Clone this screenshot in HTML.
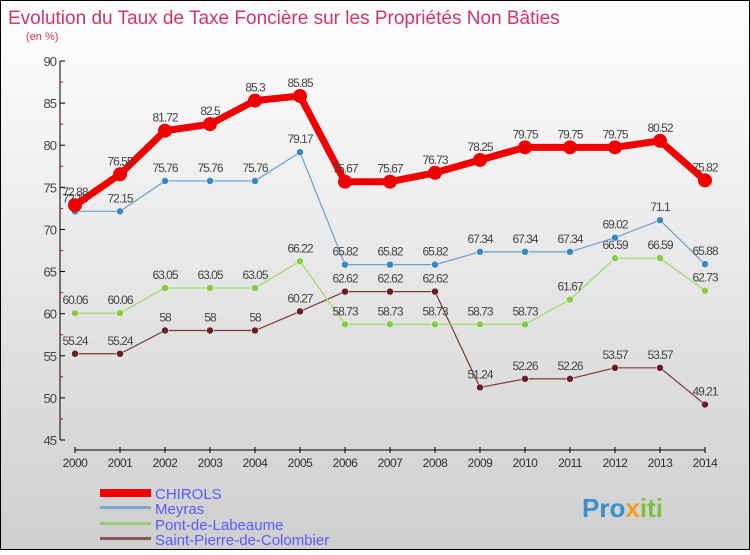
<!DOCTYPE html>
<html><head><meta charset="utf-8"><style>
html,body{margin:0;padding:0}
body{width:750px;height:550px;overflow:hidden;font-family:"Liberation Sans",sans-serif}
</style></head><body>
<svg id="c" width="750" height="550" xmlns="http://www.w3.org/2000/svg">
<defs><linearGradient id="bg" x1="0" y1="0" x2="0" y2="1"><stop offset="0" stop-color="#ffffff"/><stop offset="1" stop-color="#cfcfcf"/></linearGradient></defs>
<rect x="0.5" y="0.5" width="749" height="549" fill="url(#bg)" stroke="#000"/>
<text x="8" y="24" font-size="19" fill="#d6336c">Evolution du Taux de Taxe Foncière sur les Propriétés Non Bâties</text>
<text x="26" y="40" font-size="11" fill="#d6336c">(en %)</text>
<g id="axes"></g><g id="series"></g>
<g>
<rect x="100" y="489" width="51" height="8" fill="#e00"/>
<text x="155" y="499" font-size="15" fill="#5a5aff">CHIROLS</text>
<rect x="100" y="506" width="51" height="3" fill="#7aaacc"/>
<text x="155" y="514" font-size="15" fill="#5a5aff">Meyras</text>
<rect x="100" y="522" width="51" height="3" fill="#99cc77"/>
<text x="155" y="530" font-size="15" fill="#5a5aff">Pont-de-Labeaume</text>
<rect x="100" y="537" width="51" height="3" fill="#8a5a5a"/>
<text x="155" y="545" font-size="15" fill="#5a5aff">Saint-Pierre-de-Colombier</text>
</g>
<text x="582" y="517" font-size="26" font-weight="bold" fill="#3a8fd0">Pro<tspan fill="#f0a020">x</tspan><tspan fill="#80c040">iti</tspan></text>
</svg>
<script>
const years=[2000,2001,2002,2003,2004,2005,2006,2007,2008,2009,2010,2011,2012,2013,2014];
const yTicks=[45,50,55,60,65,70,75,80,85,90];
const chirols=[72.88,76.55,81.72,82.5,85.3,85.85,75.67,75.67,76.73,78.25,79.75,79.75,79.75,80.52,75.82];
const meyras=[72.15,72.15,75.76,75.76,75.76,79.17,65.82,65.82,65.82,67.34,67.34,67.34,69.02,71.1,65.88];
const pont=[60.06,60.06,63.05,63.05,63.05,66.22,58.73,58.73,58.73,58.73,58.73,61.67,66.59,66.59,62.73];
const stp=[55.24,55.24,58,58,58,60.27,62.62,62.62,62.62,51.24,52.26,52.26,53.57,53.57,49.21];
const NS="http://www.w3.org/2000/svg";
const X=i=>75+i*45, Y=v=>440-(v-45)*(379/45);
function mk(t,a,p){const e=document.createElementNS(NS,t);for(const k in a)e.setAttribute(k,a[k]);p.appendChild(e);return e;}
const ax=document.getElementById('axes');
const ya=mk('line',{x1:60,y1:61,x2:60,y2:440,stroke:'#000'},ax);


const xa=mk('line',{x1:75,y1:450,x2:705,y2:450,stroke:'#000'},ax);


yTicks.forEach(v=>{
 mk('line',{x1:60,y1:Y(v),x2:65,y2:Y(v),stroke:'#000'},ax);
 if(v<90)mk('line',{x1:60,y1:Y(v+2.5),x2:63,y2:Y(v+2.5),stroke:'#e00'},ax);
 const t=mk('text',{x:56,y:Y(v)+5,'font-size':13,'text-anchor':'end',fill:'#444','letter-spacing':'-1'},ax);t.textContent=v;
 
 
});
years.forEach((y,i)=>{
 mk('line',{x1:X(i),y1:447,x2:X(i),y2:453,stroke:'#000'},ax);
 const t=mk('text',{x:X(i),y:467,'font-size':12,'text-anchor':'middle',fill:'#333','letter-spacing':'-0.5'},ax);t.textContent=y;
 
 
});
const sg=document.getElementById('series');
function draw(vals,col,w,r,name,dot){
 const g=mk('g',{},sg);
 
 
 mk('polyline',{points:vals.map((v,i)=>X(i)+','+Y(v)).join(' '),fill:'none',stroke:col,'stroke-width':w,'stroke-linejoin':'round'},g);
 vals.forEach((v,i)=>{
  const c=mk('circle',{cx:X(i),cy:Y(v),r:r,fill:dot,stroke:'#fff','stroke-width':r>5?0:0.5},g);
  
  
  const t=mk('text',{x:X(i),y:Y(v)-9,'font-size':12,'text-anchor':'middle',fill:'#444','letter-spacing':'-1'},g);t.textContent=v;
  
  
 });
}
draw(stp,'#7a3a3a',1.2,3.5,'saint-pierre','#6a2020');
draw(pont,'#99dd66',1.2,3.5,'pont-de-labeaume','#88cc44');
draw(meyras,'#6aa0cc',1.2,3.5,'meyras','#3a88c0');
draw(chirols,'#ee0000',7,7,'chirols','#ee0000');
</script>
</body></html>
